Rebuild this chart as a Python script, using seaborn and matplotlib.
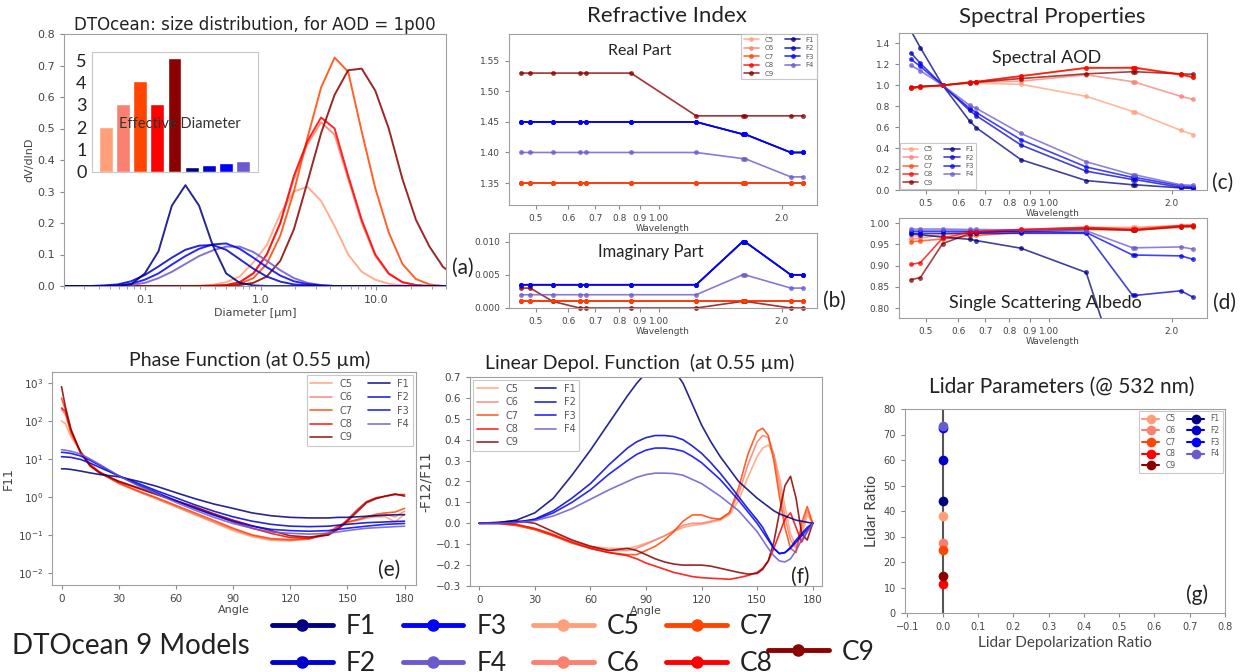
import matplotlib
matplotlib.use("Agg")
import matplotlib.pyplot as plt
import seaborn as sns
import pandas as pd
from matplotlib.lines import Line2D

# ---------------- data ----------------
MODELS = ["C5", "C6", "C7", "C8", "C9", "F1", "F2", "F3", "F4"]
COLORS = ["#FFA07A", "#FA8072", "#FF4500", "#FF0000", "#8B0000",
          "#000080", "#0000CD", "#0000FF", "#6A5ACD"]

# (a) size distribution
DIAM = [0.020, 0.026, 0.034, 0.045, 0.058, 0.076, 0.100, 0.131, 0.171, 0.224,
        0.294, 0.385, 0.504, 0.660, 0.865, 1.13, 1.48, 1.94, 2.54, 3.33,
        4.36, 5.71, 7.48, 9.80, 12.8, 16.8, 22.0, 28.8, 37.8, 49.5]
SD_C5 = [0, 0, 0, 0, 0, 0, 0, 0, 0, 0, 0.001, 0.004, 0.012, 0.03, 0.075, 0.13, 0.23, 0.30, 0.315, 0.27,
         0.19, 0.10, 0.045, 0.02, 0.007, 0.002, 0, 0, 0, 0]
SD_C6 = [0, 0, 0, 0, 0, 0, 0, 0, 0, 0, 0, 0.001, 0.003, 0.012, 0.04, 0.10, 0.20, 0.34, 0.45, 0.52,
         0.48, 0.34, 0.20, 0.095, 0.038, 0.012, 0.003, 0, 0, 0]
SD_C7 = [0, 0, 0, 0, 0, 0, 0, 0, 0, 0, 0, 0, 0.002, 0.007, 0.025, 0.07, 0.16, 0.30, 0.47, 0.63,
         0.725, 0.68, 0.49, 0.31, 0.17, 0.07, 0.022, 0.005, 0, 0]
SD_C8 = [0, 0, 0, 0, 0, 0, 0, 0, 0, 0, 0, 0.001, 0.003, 0.012, 0.04, 0.10, 0.20, 0.35, 0.46, 0.535,
         0.50, 0.35, 0.21, 0.10, 0.04, 0.012, 0.003, 0, 0, 0]
SD_C9 = [0, 0, 0, 0, 0, 0, 0, 0, 0, 0, 0, 0, 0, 0.003, 0.01, 0.03, 0.08, 0.18, 0.33, 0.485,
         0.607, 0.685, 0.69, 0.62, 0.50, 0.34, 0.21, 0.125, 0.06, 0.03]
SD_F1 = [0, 0, 0, 0, 0, 0.005, 0.04, 0.11, 0.255, 0.32, 0.255, 0.13, 0.04, 0.01, 0.002, 0, 0, 0, 0, 0,
         0, 0, 0, 0, 0, 0, 0, 0, 0, 0]
SD_F2 = [0, 0, 0, 0.002, 0.005, 0.015, 0.035, 0.062, 0.09, 0.115, 0.128, 0.13, 0.115, 0.085, 0.055, 0.03, 0.014, 0.005, 0.002, 0,
         0, 0, 0, 0, 0, 0, 0, 0, 0, 0]
SD_F3 = [0, 0, 0, 0, 0.002, 0.007, 0.02, 0.04, 0.068, 0.095, 0.118, 0.132, 0.135, 0.118, 0.09, 0.06, 0.033, 0.015, 0.006, 0.002,
         0, 0, 0, 0, 0, 0, 0, 0, 0, 0]
SD_F4 = [0, 0, 0, 0, 0, 0.003, 0.01, 0.025, 0.045, 0.07, 0.095, 0.113, 0.125, 0.125, 0.108, 0.08, 0.05, 0.025, 0.01, 0.003,
         0, 0, 0, 0, 0, 0, 0, 0, 0, 0]
EFF_DIAM = [2.02, 3.03, 4.07, 3.03, 5.11, 0.22, 0.30, 0.40, 0.49]

# (b)-(d) spectral
WAVELENGTH = [0.46, 0.485, 0.55, 0.64, 0.665, 0.855, 1.235, 1.605, 1.625, 2.105, 2.255]
WL_TICKS = [0.5, 0.6, 0.7, 0.8, 0.9, 1.0, 2.0]
WL_LABELS = ["0.5", "0.6", "0.7", "0.8", "0.9", "1.00", "2.0"]

RE_C5 = [1.35, 1.35, 1.35, 1.35, 1.35, 1.35, 1.35, 1.35, 1.35, 1.35, 1.35]
RE_C6 = [1.35, 1.35, 1.35, 1.35, 1.35, 1.35, 1.35, 1.35, 1.35, 1.35, 1.35]
RE_C7 = [1.35, 1.35, 1.35, 1.35, 1.35, 1.35, 1.35, 1.35, 1.35, 1.35, 1.35]
RE_C8 = [1.35, 1.35, 1.35, 1.35, 1.35, 1.35, 1.35, 1.35, 1.35, 1.35, 1.35]
RE_C9 = [1.53, 1.53, 1.53, 1.53, 1.53, 1.53, 1.46, 1.46, 1.46, 1.46, 1.46]
RE_F1 = [1.45, 1.45, 1.45, 1.45, 1.45, 1.45, 1.45, 1.43, 1.43, 1.40, 1.40]
RE_F2 = [1.45, 1.45, 1.45, 1.45, 1.45, 1.45, 1.45, 1.43, 1.43, 1.40, 1.40]
RE_F3 = [1.45, 1.45, 1.45, 1.45, 1.45, 1.45, 1.45, 1.43, 1.43, 1.40, 1.40]
RE_F4 = [1.40, 1.40, 1.40, 1.40, 1.40, 1.40, 1.40, 1.39, 1.39, 1.36, 1.36]

IM_C5 = [0.001, 0.001, 0.001, 0.001, 0.001, 0.001, 0.001, 0.001, 0.001, 0.001, 0.001]
IM_C6 = [0.001, 0.001, 0.001, 0.001, 0.001, 0.001, 0.001, 0.001, 0.001, 0.001, 0.001]
IM_C7 = [0.001, 0.001, 0.001, 0.001, 0.001, 0.001, 0.001, 0.001, 0.001, 0.001, 0.001]
IM_C8 = [0.001, 0.001, 0.001, 0.001, 0.001, 0.001, 0.001, 0.001, 0.001, 0.001, 0.001]
IM_C9 = [0.003, 0.003, 0.001, 0.0, 0.0, 0.0, 0.0, 0.001, 0.001, 0.0, 0.0]
IM_F1 = [0.0035, 0.0035, 0.0035, 0.0035, 0.0035, 0.0035, 0.0035, 0.010, 0.010, 0.005, 0.005]
IM_F2 = [0.0035, 0.0035, 0.0035, 0.0035, 0.0035, 0.0035, 0.0035, 0.010, 0.010, 0.005, 0.005]
IM_F3 = [0.0035, 0.0035, 0.0035, 0.0035, 0.0035, 0.0035, 0.0035, 0.010, 0.010, 0.005, 0.005]
IM_F4 = [0.002, 0.002, 0.002, 0.002, 0.002, 0.002, 0.002, 0.005, 0.005, 0.003, 0.003]

AOD_C5 = [0.975, 0.985, 1.0, 1.02, 1.02, 1.01, 0.895, 0.75, 0.745, 0.57, 0.53]
AOD_C6 = [0.975, 0.985, 1.0, 1.025, 1.03, 1.04, 1.10, 1.035, 1.03, 0.895, 0.865]
AOD_C7 = [0.97, 0.985, 1.0, 1.03, 1.035, 1.085, 1.17, 1.165, 1.165, 1.10, 1.075]
AOD_C8 = [0.97, 0.985, 1.0, 1.03, 1.035, 1.09, 1.165, 1.17, 1.17, 1.105, 1.08]
AOD_C9 = [0.98, 0.99, 1.0, 1.025, 1.03, 1.065, 1.11, 1.13, 1.13, 1.11, 1.105]
AOD_F1 = [1.52, 1.36, 1.0, 0.66, 0.595, 0.29, 0.09, 0.05, 0.05, 0.02, 0.015]
AOD_F2 = [1.31, 1.21, 1.0, 0.76, 0.71, 0.43, 0.18, 0.10, 0.10, 0.025, 0.02]
AOD_F3 = [1.25, 1.18, 1.0, 0.78, 0.74, 0.48, 0.22, 0.12, 0.12, 0.04, 0.03]
AOD_F4 = [1.19, 1.14, 1.0, 0.81, 0.78, 0.54, 0.27, 0.145, 0.145, 0.05, 0.045]

SSA_C5 = [0.968, 0.970, 0.975, 0.980, 0.980, 0.985, 0.990, 0.990, 0.990, 0.995, 0.995]
SSA_C6 = [0.962, 0.965, 0.972, 0.978, 0.979, 0.984, 0.989, 0.988, 0.988, 0.994, 0.994]
SSA_C7 = [0.956, 0.958, 0.963, 0.970, 0.971, 0.978, 0.985, 0.984, 0.984, 0.990, 0.991]
SSA_C8 = [0.903, 0.907, 0.965, 0.978, 0.980, 0.985, 0.990, 0.985, 0.985, 0.994, 0.995]
SSA_C9 = [0.867, 0.872, 0.952, 0.975, 0.977, 0.982, 0.987, 0.983, 0.983, 0.992, 0.993]
SSA_F1 = [0.974, 0.973, 0.967, 0.962, 0.959, 0.941, 0.884, 0.55, 0.55, 0.45, 0.42]
SSA_F2 = [0.976, 0.976, 0.976, 0.976, 0.976, 0.976, 0.976, 0.830, 0.830, 0.841, 0.826]
SSA_F3 = [0.981, 0.981, 0.981, 0.981, 0.981, 0.980, 0.978, 0.925, 0.925, 0.923, 0.915]
SSA_F4 = [0.986, 0.986, 0.986, 0.985, 0.985, 0.984, 0.982, 0.942, 0.942, 0.944, 0.939]

# (e) phase function
PF_ANGLE = [0, 2, 5, 10, 15, 20, 30, 40, 50, 60, 70, 80, 90, 100, 110, 120, 130,
            140, 145, 150, 155, 160, 165, 170, 175, 180]
PF_C5 = [100, 85, 38, 16, 7.5, 4.6, 2.4, 1.4, 0.88, 0.55, 0.34, 0.21, 0.13, 0.09, 0.072, 0.07, 0.078,
         0.12, 0.17, 0.21, 0.25, 0.28, 0.30, 0.30, 0.22, 0.35]
PF_C6 = [200, 150, 45, 15, 7.2, 4.4, 2.3, 1.4, 0.9, 0.56, 0.35, 0.22, 0.14, 0.095, 0.076, 0.072, 0.078,
         0.11, 0.16, 0.21, 0.24, 0.28, 0.32, 0.35, 0.30, 0.42]
PF_C7 = [400, 200, 50, 15, 7.0, 4.3, 2.3, 1.45, 0.95, 0.6, 0.38, 0.24, 0.15, 0.10, 0.08, 0.075, 0.08,
         0.11, 0.17, 0.22, 0.25, 0.30, 0.35, 0.38, 0.40, 0.50]
PF_C8 = [220, 180, 55, 15, 6.8, 4.5, 2.5, 1.7, 1.15, 0.78, 0.52, 0.34, 0.22, 0.15, 0.11, 0.085, 0.082,
         0.10, 0.15, 0.25, 0.45, 0.75, 0.95, 1.05, 1.15, 1.15]
PF_C9 = [800, 240, 60, 14.5, 6.5, 4.3, 2.6, 1.75, 1.17, 0.8, 0.55, 0.36, 0.245, 0.175, 0.13, 0.095, 0.088,
         0.10, 0.14, 0.23, 0.40, 0.70, 0.90, 1.05, 1.20, 1.05]
PF_F1 = [5.5, 5.5, 5.3, 4.8, 4.3, 3.9, 3.4, 2.6, 1.9, 1.3, 0.9, 0.65, 0.5, 0.38, 0.32, 0.29, 0.28,
         0.28, 0.29, 0.29, 0.30, 0.31, 0.32, 0.33, 0.34, 0.34]
PF_F2 = [11.5, 11.3, 11, 9.7, 7.8, 6.0, 3.6, 2.3, 1.45, 0.95, 0.62, 0.42, 0.3, 0.23, 0.19, 0.17, 0.165,
         0.17, 0.18, 0.19, 0.20, 0.21, 0.215, 0.22, 0.225, 0.23]
PF_F3 = [15, 14.7, 14, 12, 9.2, 6.8, 3.6, 2.1, 1.3, 0.8, 0.5, 0.33, 0.23, 0.17, 0.14, 0.13, 0.125,
         0.13, 0.14, 0.15, 0.16, 0.17, 0.18, 0.19, 0.195, 0.20]
PF_F4 = [17.5, 17, 16, 13.5, 10, 7.2, 3.6, 2.0, 1.2, 0.72, 0.45, 0.29, 0.2, 0.15, 0.12, 0.11, 0.105,
         0.11, 0.12, 0.13, 0.14, 0.15, 0.155, 0.16, 0.165, 0.17]

# (f) linear depolarization function
DP_ANGLE = [0, 10, 20, 30, 40, 50, 60, 70, 80, 85, 90, 95, 100, 105, 110, 115, 120, 125, 130,
            135, 140, 145, 150, 153, 156, 159, 162, 165, 168, 171, 174, 177, 180]
DP_C5 = [0, 0, -0.01, -0.025, -0.05, -0.08, -0.11, -0.12, -0.12, -0.11, -0.095, -0.08, -0.06, -0.04, -0.02, -0.01, -0.005, 0.005, 0.015,
         0.04, 0.11, 0.22, 0.32, 0.36, 0.375, 0.33, 0.22, 0.08, -0.05, -0.11, -0.06, 0.04, 0]
DP_C6 = [0, 0, -0.01, -0.03, -0.06, -0.09, -0.115, -0.13, -0.13, -0.12, -0.10, -0.08, -0.06, -0.035, -0.01, 0.0, 0.0, 0.01, 0.02,
         0.05, 0.14, 0.28, 0.39, 0.42, 0.41, 0.33, 0.18, 0.03, -0.08, -0.12, -0.03, 0.06, 0]
DP_C7 = [0, 0, -0.01, -0.03, -0.06, -0.095, -0.12, -0.14, -0.15, -0.15, -0.13, -0.11, -0.08, -0.04, 0.01, 0.04, 0.04, 0.025, 0.02,
         0.05, 0.17, 0.33, 0.44, 0.455, 0.42, 0.30, 0.13, -0.02, -0.12, -0.14, 0.0, 0.08, 0]
DP_C8 = [0, 0, -0.005, -0.025, -0.055, -0.09, -0.12, -0.14, -0.155, -0.17, -0.19, -0.205, -0.22, -0.235, -0.245, -0.255, -0.26, -0.263, -0.265,
         -0.268, -0.26, -0.25, -0.235, -0.215, -0.18, -0.12, -0.05, 0.02, 0.05, -0.02, -0.09, -0.04, 0]
DP_C9 = [0, 0.005, 0.012, 0.0, -0.04, -0.08, -0.11, -0.13, -0.12, -0.13, -0.15, -0.17, -0.185, -0.195, -0.20, -0.20, -0.20, -0.205, -0.215,
         -0.225, -0.235, -0.243, -0.24, -0.22, -0.18, -0.09, 0.05, 0.18, 0.225, 0.12, -0.05, -0.08, 0]
DP_F1 = [0, 0.002, 0.015, 0.05, 0.12, 0.23, 0.35, 0.48, 0.61, 0.67, 0.72, 0.75, 0.76, 0.735, 0.67, 0.57, 0.47, 0.39, 0.32,
         0.26, 0.20, 0.16, 0.12, 0.10, 0.08, 0.06, 0.045, 0.035, 0.025, 0.015, 0.01, 0.005, 0]
DP_F2 = [0, 0.0, 0.005, 0.02, 0.06, 0.12, 0.19, 0.28, 0.36, 0.39, 0.41, 0.42, 0.42, 0.415, 0.40, 0.37, 0.335, 0.29, 0.24,
         0.185, 0.127, 0.07, 0.016, -0.02, -0.07, -0.12, -0.145, -0.14, -0.115, -0.08, -0.05, -0.02, 0]
DP_F3 = [0, 0.0, 0.004, 0.017, 0.05, 0.10, 0.16, 0.235, 0.30, 0.33, 0.35, 0.36, 0.36, 0.355, 0.345, 0.32, 0.29, 0.25, 0.21,
         0.16, 0.11, 0.055, 0.0, -0.04, -0.08, -0.12, -0.145, -0.14, -0.12, -0.09, -0.06, -0.03, 0]
DP_F4 = [0, 0.0, 0.003, 0.013, 0.035, 0.07, 0.115, 0.16, 0.20, 0.22, 0.233, 0.24, 0.24, 0.238, 0.23, 0.21, 0.19, 0.16, 0.13,
         0.095, 0.06, 0.01, -0.04, -0.08, -0.12, -0.155, -0.18, -0.185, -0.17, -0.13, -0.08, -0.04, 0]

# (g) lidar parameters
LIDAR_DEPOL = [0.0, 0.0, 0.0, 0.0, 0.0, 0.0, 0.0, 0.0, 0.0]
LIDAR_RATIO = [38.1, 27.6, 24.9, 11.5, 14.5, 44.0, 60.0, 72.4, 73.3]

SD = dict(zip(MODELS, [SD_C5, SD_C6, SD_C7, SD_C8, SD_C9, SD_F1, SD_F2, SD_F3, SD_F4]))
RE = dict(zip(MODELS, [RE_C5, RE_C6, RE_C7, RE_C8, RE_C9, RE_F1, RE_F2, RE_F3, RE_F4]))
IM = dict(zip(MODELS, [IM_C5, IM_C6, IM_C7, IM_C8, IM_C9, IM_F1, IM_F2, IM_F3, IM_F4]))
AOD = dict(zip(MODELS, [AOD_C5, AOD_C6, AOD_C7, AOD_C8, AOD_C9, AOD_F1, AOD_F2, AOD_F3, AOD_F4]))
SSA = dict(zip(MODELS, [SSA_C5, SSA_C6, SSA_C7, SSA_C8, SSA_C9, SSA_F1, SSA_F2, SSA_F3, SSA_F4]))
PF = dict(zip(MODELS, [PF_C5, PF_C6, PF_C7, PF_C8, PF_C9, PF_F1, PF_F2, PF_F3, PF_F4]))
DP = dict(zip(MODELS, [DP_C5, DP_C6, DP_C7, DP_C8, DP_C9, DP_F1, DP_F2, DP_F3, DP_F4]))
PAL = dict(zip(MODELS, COLORS))

# ---------------- style ----------------
sns.set_style("ticks", rc={"axes.edgecolor": "#a0a0a0", "xtick.color": "#8a8a8a",
                           "ytick.color": "#8a8a8a", "axes.labelcolor": "#444444",
                           "text.color": "#222222", "axes.linewidth": 0.9})
plt.rcParams["font.family"] = ["DejaVu Sans"]
LATO = ["Lato", "DejaVu Sans"]
TICKC = "#444444"

W, H = 1244, 672
fig = plt.figure(figsize=(W / 100, H / 100), dpi=100)


def add_ax(l, t, r, b):
    return fig.add_axes([l / W, 1 - b / H, (r - l) / W, (b - t) / H])


def ftext(x, y, s, size, **kw):
    fig.text(x / W, 1 - y / H, s, fontsize=size, ha=kw.pop("ha", "center"),
             va=kw.pop("va", "center"), family=kw.pop("family", LATO), **kw)


def style_ticks(ax, size):
    ax.tick_params(labelsize=size, labelcolor=TICKC, length=3, width=0.8)


def long_df(xs, table):
    rows = []
    for m in MODELS:
        for x, y in zip(xs, table[m]):
            rows.append((x, y, m))
    return pd.DataFrame(rows, columns=["x", "y", "model"])


# ---------------- (a) size distribution ----------------
ax = add_ax(64, 34, 446, 286)
dfa = long_df(DIAM, SD)
order_a = ["C5", "C6", "C7", "C8", "C9", "F4", "F3", "F2", "F1"]
sns.lineplot(data=dfa, x="x", y="y", hue="model", hue_order=order_a, palette=PAL,
             estimator=None, lw=1.4, alpha=0.85, legend=False, ax=ax)
ax.set_xscale("log")
ax.set_xlim(0.02, 40)
ax.set_ylim(0, 0.8)
ax.set_yticks([0, 0.1, 0.2, 0.3, 0.4, 0.5, 0.6, 0.7, 0.8])
ax.set_yticklabels(["0.0", "0.1", "0.2", "0.3", "0.4", "0.5", "0.6", "0.7", "0.8"])
ax.set_xticks([0.1, 1.0, 10.0])
ax.set_xticklabels(["0.1", "1.0", "10.0"])
ax.set_xlabel("Diameter [µm]", fontsize=8, labelpad=2)
ax.set_ylabel("dV/dlnD", fontsize=8, labelpad=2)
ax.set_title("DTOcean: size distribution, for AOD = 1p00", fontsize=12, pad=1)
style_ticks(ax, 8)
ax.tick_params(which="minor", length=2, color="#8a8a8a")

axi = add_ax(92, 52, 258, 172)
sns.barplot(x=MODELS, y=EFF_DIAM, hue=MODELS, palette=PAL, legend=False,
            saturation=1, width=0.8, ax=axi)
axi.set_xlim(-0.8, 8.85)
axi.set_ylim(0, 5.37)
axi.set_xticks([])
axi.set_yticks([0, 1, 2, 3, 4, 5])
for lab in axi.get_yticklabels():
    lab.set_family(LATO)
axi.tick_params(axis="y", labelsize=13, labelcolor="#222222", length=0, pad=4)
for s in axi.spines.values():
    s.set_color("#c8c8c8")
axi.set_ylabel("")
axi.text(0.53, 0.4, "Effective Diameter", transform=axi.transAxes, fontsize=10.5,
         family=LATO, ha="center", va="center", color="#333333")
ftext(452, 268, "(a)", 15, ha="left")


# ---------------- spectral helper ----------------
def spectral(ax, table, lw=1.2, ms=3.5, alpha=0.8, top="C8"):
    df = long_df(WAVELENGTH, table)
    sns.lineplot(data=df, x="x", y="y", hue="model", hue_order=MODELS, palette=PAL,
                 estimator=None, lw=lw, marker="o", markersize=ms, markeredgewidth=0,
                 alpha=alpha, ax=ax)
    lines = ax.get_lines()
    if top in MODELS and len(lines) >= len(MODELS):
        lines[MODELS.index(top)].set_zorder(2.6)
    ax.set_xscale("log")
    ax.set_xlim(0.43, 2.44)
    ax.xaxis.set_minor_locator(matplotlib.ticker.NullLocator())
    ax.set_xticks(WL_TICKS)
    ax.set_xticklabels(WL_LABELS)
    ax.set_xlabel("Wavelength", fontsize=6.5, labelpad=1)
    ax.set_ylabel("")
    style_ticks(ax, 6.5)


def small_legend(ax, loc, size, **kw):
    leg = ax.legend(loc=loc, ncol=2, fontsize=size, frameon=True, fancybox=False,
                    handlelength=2.2, columnspacing=1.6, labelspacing=0.35,
                    borderpad=0.4, **kw)
    leg.get_frame().set_edgecolor("#bbbbbb")
    leg.get_frame().set_linewidth(0.8)
    for t in leg.get_texts():
        t.set_color("#555555")
    return leg


# (b) refractive index
axr = add_ax(509, 34, 817, 205)
spectral(axr, RE, top="C7")
axr.set_ylim(1.314, 1.594)
axr.set_yticks([1.35, 1.40, 1.45, 1.50, 1.55])
axr.set_yticklabels(["1.35", "1.40", "1.45", "1.50", "1.55"])
small_legend(axr, "upper right", 5, borderaxespad=0.0)
axr.text(0.425, 0.9, "Real Part", transform=axr.transAxes, fontsize=11.5,
         family=LATO, ha="center", va="center")
ftext(667, 16, "Refractive Index", 16)

axm = add_ax(509, 233, 817, 308)
spectral(axm, IM, top="C7")
for ln in axm.get_lines():
    ln.set_clip_on(False)
if axm.get_legend():
    axm.get_legend().remove()
axm.set_ylim(0, 0.0113)
axm.set_yticks([0, 0.005, 0.010])
axm.set_yticklabels(["0.000", "0.005", "0.010"])
axm.text(0.46, 0.75, "Imaginary Part", transform=axm.transAxes, fontsize=12,
         family=LATO, ha="center", va="center")
ftext(834, 301, "(b)", 15)

# (c) spectral AOD
axc = add_ax(899, 33, 1207, 190)
spectral(axc, AOD, alpha=0.75)
axc.set_ylim(0, 1.5)
axc.set_yticks([0, 0.2, 0.4, 0.6, 0.8, 1.0, 1.2, 1.4])
axc.set_yticklabels(["0.0", "0.2", "0.4", "0.6", "0.8", "1.0", "1.2", "1.4"])
small_legend(axc, "lower left", 5, borderaxespad=0.2)
axc.text(0.48, 0.84, "Spectral AOD", transform=axc.transAxes, fontsize=13,
         family=LATO, ha="center", va="center")
ftext(1052, 17, "Spectral Properties", 16)
ftext(1223, 183, "(c)", 15)

# (d) single scattering albedo
axd = add_ax(899, 218, 1207, 318)
spectral(axd, SSA, alpha=0.75)
if axd.get_legend():
    axd.get_legend().remove()
axd.set_ylim(0.777, 1.012)
axd.set_yticks([0.80, 0.85, 0.90, 0.95, 1.00])
axd.set_yticklabels(["0.80", "0.85", "0.90", "0.95", "1.00"])
axd.text(0.474, 0.15, "Single Scattering Albedo", transform=axd.transAxes, fontsize=13,
         family=LATO, ha="center", va="center")
ftext(1225, 303, "(d)", 15)

# ---------------- (e) phase function ----------------
axe = add_ax(52, 372, 416, 585)
dfe = long_df(PF_ANGLE, PF)
sns.lineplot(data=dfe, x="x", y="y", hue="model", hue_order=MODELS, palette=PAL,
             estimator=None, lw=1.2, alpha=0.85, ax=axe)
axe.set_yscale("log")
axe.set_ylim(0.0048, 1950)
axe.set_xlim(-5, 186)
axe.set_xticks([0, 30, 60, 90, 120, 150, 180])
axe.set_xlabel("Angle", fontsize=8, labelpad=1)
axe.set_ylabel("F11", fontsize=9, labelpad=2)
style_ticks(axe, 7.5)
axe.tick_params(which="minor", length=0)
small_legend(axe, "upper right", 7, borderaxespad=0.3)
ftext(250, 360, "Phase Function (at 0.55 µm)", 14)
ftext(389, 570, "(e)", 15)

# ---------------- (f) linear depol ----------------
axf = add_ax(470, 377, 822, 586)
dff = long_df(DP_ANGLE, DP)
sns.lineplot(data=dff, x="x", y="y", hue="model", hue_order=MODELS, palette=PAL,
             estimator=None, lw=1.2, alpha=0.85, ax=axf)
axf.set_ylim(-0.3, 0.7)
axf.set_xlim(-5, 185)
axf.set_xticks([0, 30, 60, 90, 120, 150, 180])
axf.set_yticks([-0.3, -0.2, -0.1, 0.0, 0.1, 0.2, 0.3, 0.4, 0.5, 0.6, 0.7])
axf.set_xlabel("Angle", fontsize=8, labelpad=1)
axf.set_ylabel("-F12/F11", fontsize=10, labelpad=2)
style_ticks(axf, 7.5)
small_legend(axf, "upper left", 7, borderaxespad=0.3)
ftext(640, 363, "Linear Depol. Function  (at 0.55 µm)", 14)
ftext(800, 577, "(f)", 15)

# ---------------- (g) lidar ----------------
axg = add_ax(905, 409, 1225, 613)
axg.axvline(0, color="#555555", lw=1.5, zorder=1)
for m, dx, lr in zip(MODELS, LIDAR_DEPOL, LIDAR_RATIO):
    sns.lineplot(x=[dx], y=[lr], color=PAL[m], marker="o", markersize=7,
                 markeredgewidth=0, label=m, ax=axg)
axg.set_xlim(-0.107, 0.8)
axg.set_ylim(0, 80)
axg.set_xticks([-0.1, 0, 0.1, 0.2, 0.3, 0.4, 0.5, 0.6, 0.7, 0.8])
axg.set_xticklabels(["−0.1", "0.0", "0.1", "0.2", "0.3", "0.4", "0.5", "0.6", "0.7", "0.8"])
axg.set_yticks([0, 10, 20, 30, 40, 50, 60, 70, 80])
style_ticks(axg, 7)
axg.set_xlabel("Lidar Depolarization Ratio", fontsize=11, family=LATO, labelpad=3)
axg.set_ylabel("Lidar Ratio", fontsize=11, family=LATO, labelpad=3)
small_legend(axg, "upper right", 5.5, borderaxespad=0.3)
ftext(1062, 387, "Lidar Parameters (@ 532 nm)", 15)
ftext(1197, 595, "(g)", 15)

# ---------------- bottom legend ----------------
ftext(12, 646, "DTOcean 9 Models", 20, ha="left")
main_order = ["F1", "F2", "F3", "F4", "C5", "C6", "C7", "C8"]
handles = [Line2D([], [], color=PAL[m], lw=3.5, marker="o", markersize=8) for m in main_order]
leg1 = fig.legend(handles, main_order, loc="upper left", bbox_to_anchor=(272 / W, 1 - 614 / H),
                  ncol=4, frameon=False, handlelength=2.3, handletextpad=0.5,
                  columnspacing=1.0, labelspacing=0.45, borderpad=0, borderaxespad=0,
                  prop={"family": LATO, "size": 19})
leg2 = fig.legend([Line2D([], [], color=PAL["C9"], lw=3.5, marker="o", markersize=8)], ["C9"],
                  loc="center left", bbox_to_anchor=(768 / W, 1 - 652 / H),
                  frameon=False, handlelength=2.3, handletextpad=0.5, borderpad=0,
                  borderaxespad=0, prop={"family": LATO, "size": 19})

fig.savefig("out.png", dpi=100)
